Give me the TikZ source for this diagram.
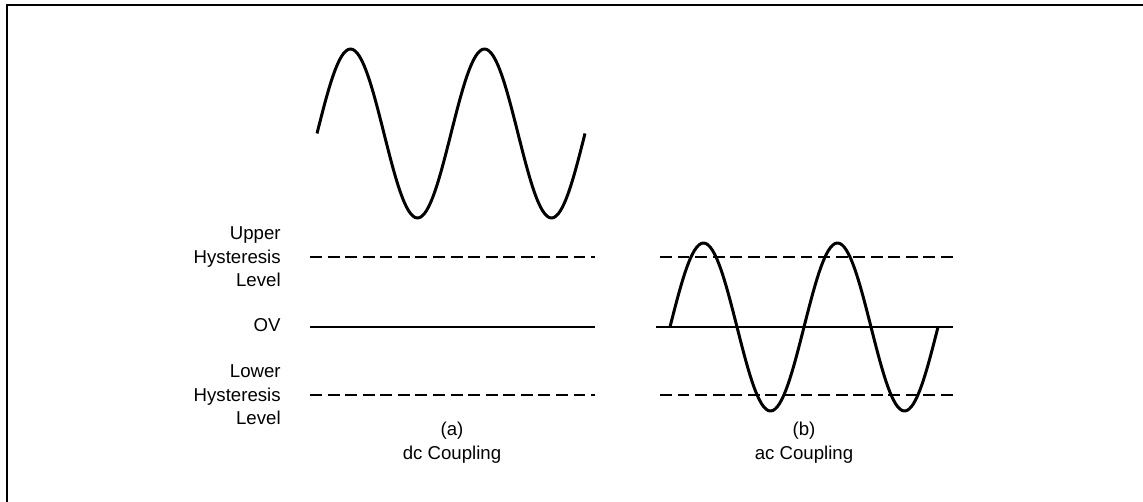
\documentclass[tikz,border=0pt]{standalone}
\usepackage{fontspec}
\setmainfont{Liberation Sans}
\usepackage{tikz}
\usetikzlibrary{positioning,calc}

\tikzset{
    level/.style={line width=1.5pt},
    hyst/.style={line width=1.5pt, dash pattern=on 6.8pt off 3.2pt},
    wave/.style={line width=1.7pt, line join=round},
    lbl/.style={anchor=east, align=right, inner sep=0pt, font=\fontsize{10.6}{13.4}\selectfont},
    captext/.style={align=center, inner sep=0pt, font=\fontsize{10.6}{13.6}\selectfont}
}

\begin{document}
\begin{tikzpicture}[x=0.02cm, y=-0.02cm]
    \useasboundingbox (0,0) rectangle (1143,502);

    % Frame (top and left edge)
    \draw[line width=1.3pt] (7,502) -- (7,5) -- (1143,5);

    % Level labels
    \node[lbl] (upper) at (281,257) {Upper\\Hysteresis\\Level};
    \node[lbl] (zero)  at (281,325) {OV};
    \node[lbl] (lower) at (281,395) {Lower\\Hysteresis\\Level};

    % (a) dc coupling: signal sits above the levels
    \draw[wave] (317,133.5) sin (350.5,49) cos (384,133.5) sin (417.5,218) cos (451,133.5)
                            sin (484.5,49) cos (518,133.5) sin (551.5,218) cos (585,133.5);
    \draw[hyst]  (310,257) -- (595,257);
    \draw[level] (310,327) -- (595,327);
    \draw[hyst]  (310,395) -- (595,395);
    \node[captext] (capA) at (452,443) {(a)\\dc Coupling};

    % (b) ac coupling: signal centred on 0V
    \draw[hyst]  (953,257) -- (656,257);
    \draw[level] (953,327) -- (656,327);
    \draw[hyst]  (953,395) -- (656,395);
    \draw[wave] (670,327) sin (703.5,243) cos (737,327) sin (770.5,411) cos (804,327)
                          sin (837.5,243) cos (871,327) sin (904.5,411) cos (938,327);
    \node[captext] (capB) at (804,443) {(b)\\ac Coupling};
\end{tikzpicture}
\end{document}
